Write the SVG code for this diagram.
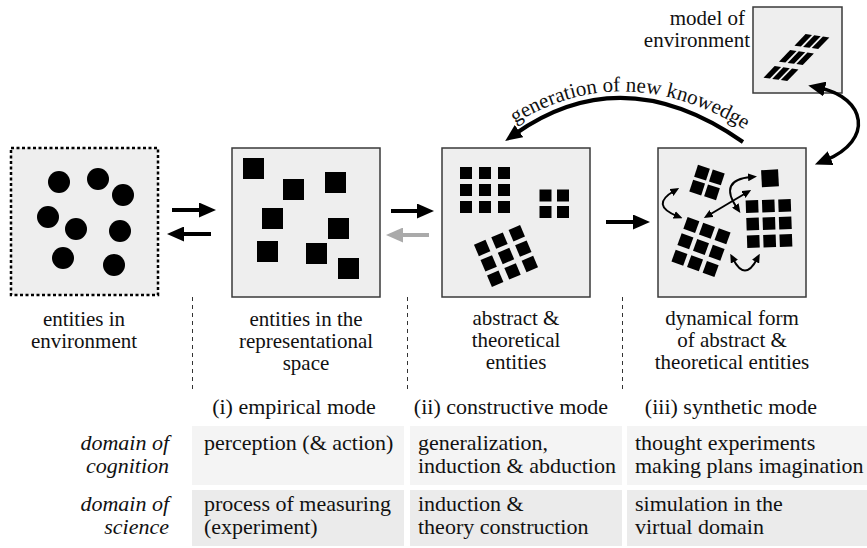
<svg xmlns="http://www.w3.org/2000/svg" width="867" height="548" viewBox="0 0 867 548">
<defs>
<style>
.box{fill:#eeeeee;stroke:#3a3a3a;stroke-width:1.5}
text{font-family:'Liberation Serif','DejaVu Serif',serif}
.lbl{font-size:21px;fill:#111;text-anchor:middle}
.tbl{font-size:22px;fill:#111}
.it{font-style:italic;text-anchor:end}
.mid{text-anchor:middle}
.sep{stroke:#333;stroke-width:1;stroke-dasharray:4 4}
.arr{stroke:#000;stroke-width:4;fill:none}
.sarr{stroke:#000;stroke-width:2;fill:none}
.c1{fill:#f4f4f4}
.c2{fill:#ebebeb}
</style>
<marker id="ah" markerUnits="userSpaceOnUse" markerWidth="17" markerHeight="15" refX="5" refY="7.5" orient="auto-start-reverse" viewBox="0 0 17 15"><path d="M0,0 L17,7.5 L0,15 z" fill="#000"/></marker>
<marker id="ahg" markerUnits="userSpaceOnUse" markerWidth="17" markerHeight="15" refX="5" refY="7.5" orient="auto-start-reverse" viewBox="0 0 17 15"><path d="M0,0 L17,7.5 L0,15 z" fill="#aaaaaa"/></marker>
<marker id="as" markerUnits="userSpaceOnUse" markerWidth="9" markerHeight="8" refX="3" refY="4" orient="auto-start-reverse" viewBox="0 0 9 8"><path d="M0,0 L9,4 L0,8 z" fill="#000"/></marker>
<rect id="sq" width="12" height="12"/>
<rect id="sq13" x="-6.25" y="-6.25" width="12.5" height="12.5"/>
</defs>
<rect width="867" height="548" fill="#fff"/>

<g id="env">
<rect x="11" y="148" width="147" height="147" fill="#eeeeee" stroke="#000" stroke-width="2.5" stroke-dasharray="3 2.5"/>
<g fill="#000">
<circle cx="59" cy="182" r="11"/>
<circle cx="98" cy="179" r="11"/>
<circle cx="123" cy="195" r="11"/>
<circle cx="48" cy="217" r="11"/>
<circle cx="76" cy="229" r="11"/>
<circle cx="120" cy="231" r="11"/>
<circle cx="63" cy="258" r="11"/>
<circle cx="114" cy="265" r="11"/>
</g>
<text class="lbl" x="84" y="326" font-family="Liberation Serif, serif">entities in</text>
<text class="lbl" x="84" y="348" font-family="Liberation Serif, serif">environment</text>
</g>

<g id="rep">
<rect class="box" x="232" y="148" width="148" height="149"/>
<g fill="#000">
<rect x="243" y="158" width="21" height="21"/>
<rect x="283" y="179" width="21" height="21"/>
<rect x="325" y="172" width="21" height="21"/>
<rect x="262" y="208" width="21" height="21"/>
<rect x="328" y="218" width="21" height="21"/>
<rect x="257" y="241" width="21" height="21"/>
<rect x="306" y="243" width="21" height="21"/>
<rect x="338" y="258" width="21" height="21"/>
</g>
<text class="lbl" x="306" y="326">entities in the</text>
<text class="lbl" x="306" y="348">representational</text>
<text class="lbl" x="306" y="370">space</text>
</g>

<g id="abstract">
<rect class="box" x="442" y="148" width="148" height="149"/>
<g fill="#000">
<use href="#sq" x="460" y="167"/><use href="#sq" x="479" y="167"/><use href="#sq" x="498" y="167"/>
<use href="#sq" x="460" y="184"/><use href="#sq" x="479" y="184"/><use href="#sq" x="498" y="184"/>
<use href="#sq" x="460" y="201"/><use href="#sq" x="479" y="201"/><use href="#sq" x="498" y="201"/>
<use href="#sq" x="539.5" y="189.5"/><use href="#sq" x="557" y="189.5"/>
<use href="#sq" x="539.5" y="206"/><use href="#sq" x="557" y="206"/>
<g transform="translate(506,256) rotate(-23)">
<use href="#sq13" x="-18.8" y="-16.7"/><use href="#sq13" x="0" y="-16.7"/><use href="#sq13" x="18.8" y="-16.7"/>
<use href="#sq13" x="-18.8" y="0"/><use href="#sq13" x="0" y="0"/><use href="#sq13" x="18.8" y="0"/>
<use href="#sq13" x="-18.8" y="16.7"/><use href="#sq13" x="0" y="16.7"/><use href="#sq13" x="18.8" y="16.7"/>
</g>
</g>
<text class="lbl" x="516" y="325">abstract &amp;</text>
<text class="lbl" x="516" y="347">theoretical</text>
<text class="lbl" x="516" y="369">entities</text>
</g>

<g id="dynamic">
<rect class="box" x="658" y="148" width="148" height="149"/>
<g fill="#000">
<g transform="translate(707,182.5) rotate(18)">
<use href="#sq13" x="-7.8" y="-7.8"/><use href="#sq13" x="7.8" y="-7.8"/>
<use href="#sq13" x="-7.8" y="7.8"/><use href="#sq13" x="7.8" y="7.8"/>
</g>
<g transform="translate(701,247) rotate(20)">
<use href="#sq13" x="-16.6" y="-17.4"/><use href="#sq13" x="0" y="-17.4"/><use href="#sq13" x="16.6" y="-17.4"/>
<use href="#sq13" x="-16.6" y="0"/><use href="#sq13" x="0" y="0"/><use href="#sq13" x="16.6" y="0"/>
<use href="#sq13" x="-16.6" y="17.4"/><use href="#sq13" x="0" y="17.4"/><use href="#sq13" x="16.6" y="17.4"/>
</g>
<g transform="translate(769,223.5) rotate(-2)">
<use href="#sq13" x="-16.3" y="-17.5"/><use href="#sq13" x="0" y="-17.5"/><use href="#sq13" x="16.3" y="-17.5"/>
<use href="#sq13" x="-16.3" y="0"/><use href="#sq13" x="0" y="0"/><use href="#sq13" x="16.3" y="0"/>
<use href="#sq13" x="-16.3" y="17.5"/><use href="#sq13" x="0" y="17.5"/><use href="#sq13" x="16.3" y="17.5"/>
</g>
<rect x="-8.5" y="-8.5" width="17" height="17" transform="translate(770,178.3) rotate(-3)"/>
</g>
<path class="sarr" d="M674,191 Q650,205 677,216" marker-start="url(#as)" marker-end="url(#as)"/>
<path class="sarr" d="M751,177 Q718,180 737,208" marker-start="url(#as)" marker-end="url(#as)"/>
<path class="sarr" d="M746,193 L709,215" marker-start="url(#as)" marker-end="url(#as)"/>
<path class="sarr" d="M733,259 Q745,282 757,259" marker-start="url(#as)" marker-end="url(#as)"/>
<text class="lbl" x="732" y="325">dynamical form</text>
<text class="lbl" x="732" y="347">of abstract &amp;</text>
<text class="lbl" x="732" y="369">theoretical entities</text>
</g>

<g id="model">
<rect class="box" x="753" y="7" width="89" height="86"/>
<g fill="#000" transform="translate(796,58) rotate(8) skewX(-36)">
<rect x="-12" y="-25" width="6.5" height="13"/><rect x="-3.25" y="-25" width="6.5" height="13"/><rect x="5.5" y="-25" width="6.5" height="13"/>
<rect x="-12" y="-7" width="6.5" height="13"/><rect x="-3.25" y="-7" width="6.5" height="13"/><rect x="5.5" y="-7" width="6.5" height="13"/>
<rect x="-12" y="11" width="6.5" height="13"/><rect x="-3.25" y="11" width="6.5" height="13"/><rect x="5.5" y="11" width="6.5" height="13"/>
</g>
<text class="lbl" x="745" y="25" style="text-anchor:end">model of</text>
<text class="lbl" x="750" y="47" style="text-anchor:end">environment</text>
</g>

<g id="separators">
<line class="sep" x1="192.5" y1="297" x2="192.5" y2="392"/>
<line class="sep" x1="407.5" y1="297" x2="407.5" y2="392"/>
<line class="sep" x1="622.5" y1="297" x2="622.5" y2="392"/>
</g>

<g id="connectors">
<line class="arr" x1="172" y1="210" x2="204" y2="210" marker-end="url(#ah)"/>
<line class="arr" x1="211" y1="234" x2="179" y2="234" marker-end="url(#ah)"/>
<line class="arr" x1="391" y1="211" x2="422" y2="211" marker-end="url(#ah)"/>
<line class="arr" x1="429" y1="235" x2="398" y2="235" style="stroke:#aaaaaa" marker-end="url(#ahg)"/>
<line class="arr" x1="606" y1="222" x2="638" y2="222" marker-end="url(#ah)"/>
<path class="arr" d="M743,142 Q623,58 515,134" marker-end="url(#ah)"/>
<path class="arr" style="stroke-width:3.5" d="M820,88 C866,98 874,140 826,160" marker-start="url(#ah)" marker-end="url(#ah)"/>
<path id="genp" d="M508,128 Q623,52 752,134" fill="none"/>
<text class="lbl"><textPath href="#genp" startOffset="50%">generation of new knowedge</textPath></text>
</g>

<g id="modes">
<text class="tbl mid" x="294" y="414">(i) empirical mode</text>
<text class="tbl mid" x="511" y="414">(ii) constructive mode</text>
<text class="tbl mid" x="731" y="414">(iii) synthetic mode</text>
</g>

<g id="table">
<rect class="c1" x="192" y="426" width="212" height="59"/>
<rect class="c1" x="410" y="426" width="212" height="59"/>
<rect class="c1" x="627" y="426" width="240" height="59"/>
<rect class="c2" x="192" y="490" width="212" height="56"/>
<rect class="c2" x="410" y="490" width="212" height="56"/>
<rect class="c2" x="627" y="490" width="240" height="56"/>
<text class="tbl it" x="169" y="450">domain of</text>
<text class="tbl it" x="169" y="473">cognition</text>
<text class="tbl it" x="169" y="511">domain of</text>
<text class="tbl it" x="169" y="534">science</text>
<text class="tbl" x="204" y="450">perception (&amp; action)</text>
<text class="tbl" x="204" y="511">process of measuring</text>
<text class="tbl" x="204" y="534">(experiment)</text>
<text class="tbl" x="418" y="450">generalization,</text>
<text class="tbl" x="418" y="473">induction &amp; abduction</text>
<text class="tbl" x="418" y="511">induction &amp;</text>
<text class="tbl" x="418" y="534">theory construction</text>
<text class="tbl" x="635" y="450">thought experiments</text>
<text class="tbl" x="635" y="473">making plans imagination</text>
<text class="tbl" x="635" y="511">simulation in the</text>
<text class="tbl" x="635" y="534">virtual domain</text>
</g>
</svg>
